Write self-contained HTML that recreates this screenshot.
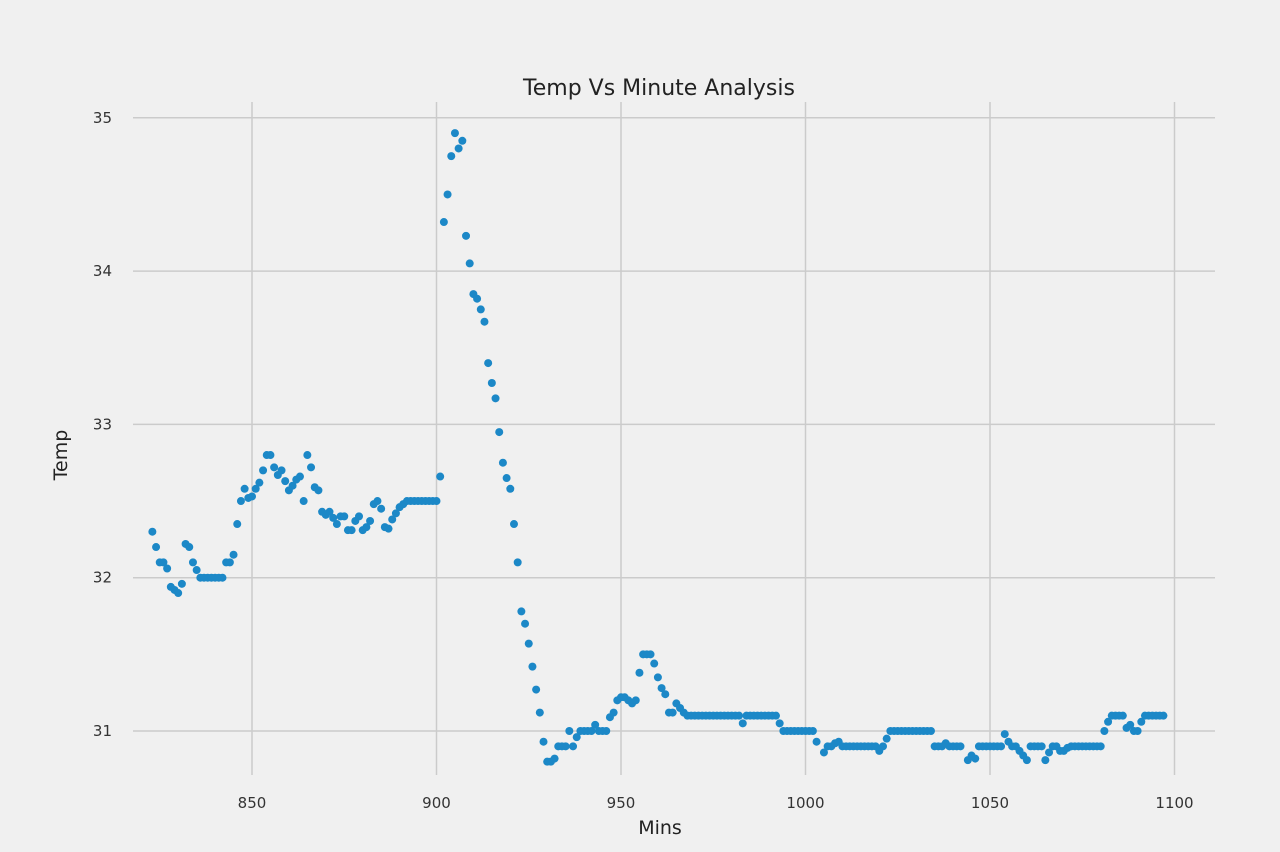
<!DOCTYPE html>
<html><head><meta charset="utf-8">
<style>
html,body{margin:0;padding:0;background:#f0f0f0;}
svg{display:block;font-family:"DejaVu Sans","Liberation Sans",sans-serif;}
</style></head>
<body>
<svg id="chart" width="1280" height="852" viewBox="0 0 1280 852">
<rect x="0" y="0" width="1280" height="852" fill="#f0f0f0"/>
<g id="grid"></g>
<g id="points"></g>
<g id="ticks"></g>
<text x="659" y="95" text-anchor="middle" font-size="22" fill="#222">Temp Vs Minute Analysis</text>
<text x="660" y="834" text-anchor="middle" font-size="19" fill="#222">Mins</text>
<text x="67" y="455" text-anchor="middle" font-size="19" fill="#222" transform="rotate(-90 67 455)">Temp</text>
</svg>
<script>
const xTicks=[850,900,950,1000,1050,1100];
const yTicks=[31,32,33,34,35];
const mins=[823,824,825,826,827,828,829,830,831,832,833,834,835,836,837,838,839,840,841,842,843,844,845,846,847,848,849,850,851,852,853,854,855,856,857,858,859,860,861,862,863,864,865,866,867,868,869,870,871,872,873,874,875,876,877,878,879,880,881,882,883,884,885,886,887,888,889,890,891,892,893,894,895,896,897,898,899,900,901,
902,903,904,905,906,907,908,909,910,911,912,913,914,915,916,917,918,919,920,921,922,923,924,925,926,927,928,929,930,931,932,933,934,935,936,937,938,939,
940,941,942,943,944,945,946,947,948,949,950,951,952,953,954,955,956,957,958,959,960,961,962,963,964,965,966,967,968,969,970,971,972,973,974,975,976,977,978,979,980,981,982,983,984,985,986,987,988,989,990,991,992,993,994,995,996,997,998,999,1000,1001,1002,1003,1005,1006,1007,1008,1009,1010,
1011,1012,1013,1014,1015,1016,1017,1018,1019,1020,1021,1022,1023,1024,1025,1026,1027,1028,1029,1030,1031,1032,1033,1034,1035,1036,1037,1038,1039,1040,1041,1042,1044,1045,1046,1047,1048,1049,1050,1051,1052,1053,1054,1055,1056,1057,1058,1059,1060,1061,1062,1063,1064,1065,1066,1067,1068,1069,1070,1071,1072,1073,1074,1075,1076,1077,1078,1079,1080,1081,1082,1083,1084,1085,1086,1087,1088,1089,1090,1091,1092,1093,1094,1095,1096,1097];
const temps=[32.30,32.20,32.10,32.10,32.06,31.94,31.92,31.90,31.96,32.22,32.20,32.10,32.05,32.00,32.00,32.00,32.00,32.00,32.00,32.00,32.10,32.10,32.15,32.35,32.50,32.58,32.52,32.53,32.58,32.62,32.70,32.80,32.80,32.72,32.67,32.70,32.63,32.57,32.60,32.64,32.66,32.50,32.80,32.72,32.59,32.57,32.43,32.41,32.43,32.39,32.35,32.40,32.40,32.31,32.31,32.37,32.40,32.31,32.33,32.37,32.48,32.50,32.45,32.33,32.32,32.38,32.42,32.46,32.48,32.50,32.50,32.50,32.50,32.50,32.50,32.50,32.50,32.50,32.66,
34.32,34.50,34.75,34.90,34.80,34.85,34.23,34.05,33.85,33.82,33.75,33.67,33.40,33.27,33.17,32.95,32.75,32.65,32.58,32.35,32.10,31.78,31.70,31.57,31.42,31.27,31.12,30.93,30.80,30.80,30.82,30.90,30.90,30.90,31.00,30.90,30.96,31.00,
31.00,31.00,31.00,31.04,31.00,31.00,31.00,31.09,31.12,31.20,31.22,31.22,31.20,31.18,31.20,31.38,31.50,31.50,31.50,31.44,31.35,31.28,31.24,31.12,31.12,31.18,31.15,31.12,31.10,31.10,31.10,31.10,31.10,31.10,31.10,31.10,31.10,31.10,31.10,31.10,31.10,31.10,31.10,31.05,31.10,31.10,31.10,31.10,31.10,31.10,31.10,31.10,31.10,31.05,31.00,31.00,31.00,31.00,31.00,31.00,31.00,31.00,31.00,30.93,30.86,30.90,30.90,30.92,30.93,30.90,
30.90,30.90,30.90,30.90,30.90,30.90,30.90,30.90,30.90,30.87,30.90,30.95,31.00,31.00,31.00,31.00,31.00,31.00,31.00,31.00,31.00,31.00,31.00,31.00,30.90,30.90,30.90,30.92,30.90,30.90,30.90,30.90,30.81,30.84,30.82,30.90,30.90,30.90,30.90,30.90,30.90,30.90,30.98,30.93,30.90,30.90,30.87,30.84,30.81,30.90,30.90,30.90,30.90,30.81,30.86,30.90,30.90,30.87,30.87,30.89,30.90,30.90,30.90,30.90,30.90,30.90,30.90,30.90,30.90,31.00,31.06,31.10,31.10,31.10,31.10,31.02,31.04,31.00,31.00,31.06,31.10,31.10,31.10,31.10,31.10,31.10];
const NS='http://www.w3.org/2000/svg';
function xs(v){return 252+(v-850)*3.69;}
function ys(v){return 731-(v-31)*153.3;}
const grid=document.getElementById('grid'),ticks=document.getElementById('ticks'),pts=document.getElementById('points');
function mk(tag,attrs,parent){const e=document.createElementNS(NS,tag);for(const k in attrs)e.setAttribute(k,attrs[k]);parent.appendChild(e);return e;}
xTicks.forEach(t=>{
  const l=mk('line',{x1:xs(t),x2:xs(t),y1:102,y2:775,stroke:'#cbcbcb','stroke-width':1.5},grid);
  
  
  const tx=mk('text',{x:xs(t),y:808,'text-anchor':'middle','font-size':15,fill:'#333'},ticks);
  tx.textContent=t;
  
  
});
yTicks.forEach(t=>{
  const l=mk('line',{x1:133,x2:1215,y1:ys(t),y2:ys(t),stroke:'#cbcbcb','stroke-width':1.5},grid);
  
  
  const tx=mk('text',{x:112,y:ys(t)+5,'text-anchor':'end','font-size':15,fill:'#333'},ticks);
  tx.textContent=t;
  
  
});
for(let i=0;i<mins.length&&i<temps.length;i++){
  const c=mk('circle',{cx:xs(mins[i]),cy:ys(temps[i]),r:4,fill:'#1c88c7'},pts);
  
  
}
</script>
</body></html>
